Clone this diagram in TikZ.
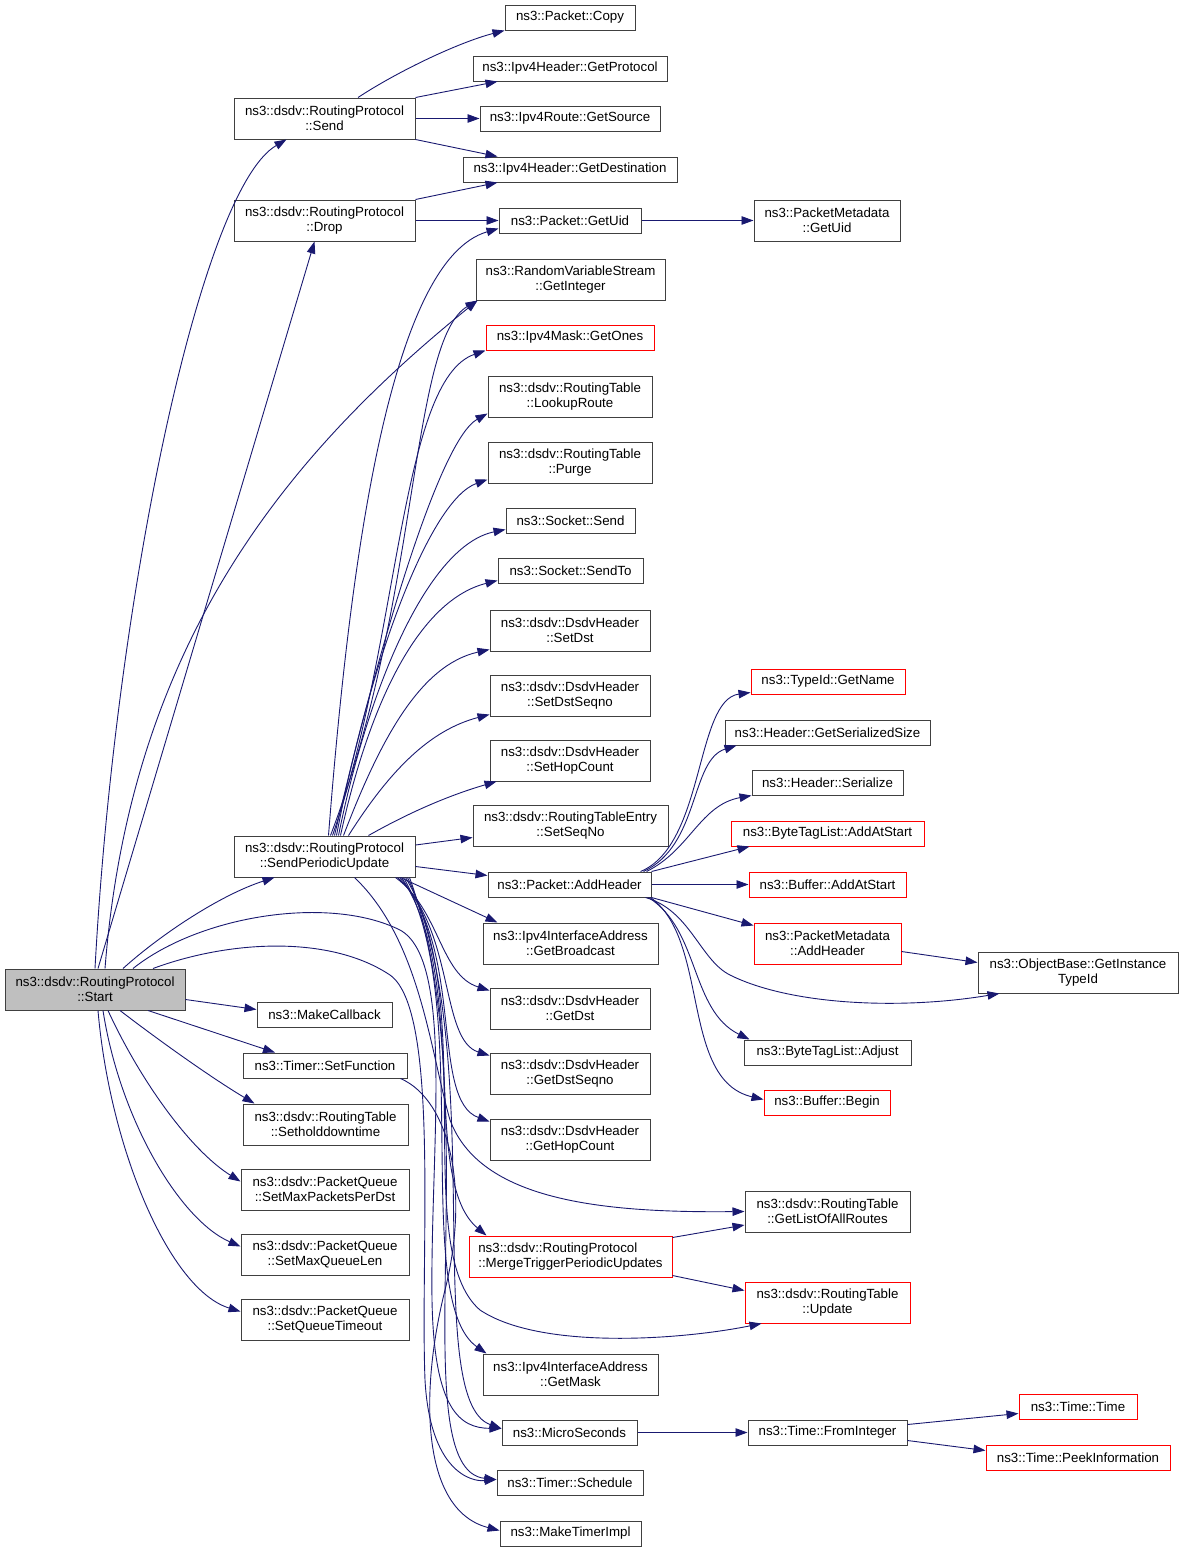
\documentclass[tikz,border=0pt]{standalone}
\usepackage{fontspec}
\setmainfont{Liberation Sans}
\usetikzlibrary{arrows.meta, positioning}
\definecolor{edgeblue}{RGB}{25, 25, 112}
\definecolor{startgray}{RGB}{191, 191, 191}

\begin{document}
\begin{tikzpicture}[x=1pt, y=-1pt,
    fn/.style={draw=black!75, line width=1pt, fill=white, inner sep=0pt,
        minimum height=25pt, align=center, font=\fontsize{13.3}{15}\selectfont},
    fntwo/.style={fn, minimum height=41pt},
    nodoc/.style={draw=red},
    call/.style={edgeblue, line width=0.9pt, -{Triangle[length=12pt,width=8.5pt]}}]
    \useasboundingbox (0,0) rectangle (1184,1553);

    % caller and first level
    \node[fntwo, fill=startgray, minimum width=180pt] (start) at (95,989.5) {ns3::dsdv::RoutingProtocol\\::Start};
    \node[fntwo, minimum width=181pt] (send) at (324.5,118.5) {ns3::dsdv::RoutingProtocol\\::Send};
    \node[fntwo, minimum width=181pt] (drop) at (324.5,220.5) {ns3::dsdv::RoutingProtocol\\::Drop};
    \node[fntwo, minimum width=181pt] (spu) at (324.5,856.5) {ns3::dsdv::RoutingProtocol\\::SendPeriodicUpdate};
    \node[fn, minimum width=135pt] (mcb) at (324.5,1014.5) {ns3::MakeCallback};
    \node[fn, minimum width=164pt] (setfn) at (325,1065.5) {ns3::Timer::SetFunction};
    \node[fntwo, minimum width=165pt] (hold) at (325.5,1124.5) {ns3::dsdv::RoutingTable\\::Setholddowntime};
    \node[fntwo, minimum width=168pt] (maxpkt) at (325,1189.5) {ns3::dsdv::PacketQueue\\::SetMaxPacketsPerDst};
    \node[fntwo, minimum width=168pt] (maxlen) at (325,1254.5) {ns3::dsdv::PacketQueue\\::SetMaxQueueLen};
    \node[fntwo, minimum width=168pt] (qtime) at (325,1319.5) {ns3::dsdv::PacketQueue\\::SetQueueTimeout};

    % second level
    \node[fn, minimum width=130pt] (copy) at (570,17.5) {ns3::Packet::Copy};
    \node[fn, minimum width=194pt] (getprot) at (570,68.5) {ns3::Ipv4Header::GetProtocol};
    \node[fn, minimum width=180pt] (getsrc) at (570,118.5) {ns3::Ipv4Route::GetSource};
    \node[fn, minimum width=214pt] (getdest) at (570,169.5) {ns3::Ipv4Header::GetDestination};
    \node[fn, minimum width=142pt] (getuid) at (570,220.5) {ns3::Packet::GetUid};
    \node[fntwo, minimum width=189pt] (getint) at (570.5,279.5) {ns3::RandomVariableStream\\::GetInteger};
    \node[fn, nodoc, minimum width=168pt] (getones) at (570,337.5) {ns3::Ipv4Mask::GetOnes};
    \node[fntwo, minimum width=164pt] (lookup) at (570,396.5) {ns3::dsdv::RoutingTable\\::LookupRoute};
    \node[fntwo, minimum width=164pt] (purge) at (570,462.5) {ns3::dsdv::RoutingTable\\::Purge};
    \node[fn, minimum width=129pt] (socksend) at (570.5,520.5) {ns3::Socket::Send};
    \node[fn, minimum width=145pt] (sendto) at (570.5,570.5) {ns3::Socket::SendTo};
    \node[fntwo, minimum width=160pt] (setdst) at (570,630.5) {ns3::dsdv::DsdvHeader\\::SetDst};
    \node[fntwo, minimum width=160pt] (setdseq) at (570,695.5) {ns3::dsdv::DsdvHeader\\::SetDstSeqno};
    \node[fntwo, minimum width=160pt] (sethop) at (570,760.5) {ns3::dsdv::DsdvHeader\\::SetHopCount};
    \node[fntwo, minimum width=195pt] (setseq) at (570.5,825.5) {ns3::dsdv::RoutingTableEntry\\::SetSeqNo};
    \node[fn, minimum width=163pt] (addh) at (569.5,884.5) {ns3::Packet::AddHeader};
    \node[fntwo, minimum width=175pt] (getbcast) at (570.5,943.5) {ns3::Ipv4InterfaceAddress\\::GetBroadcast};
    \node[fntwo, minimum width=160pt] (getdst) at (570,1008.5) {ns3::dsdv::DsdvHeader\\::GetDst};
    \node[fntwo, minimum width=160pt] (getdseq) at (570,1073.5) {ns3::dsdv::DsdvHeader\\::GetDstSeqno};
    \node[fntwo, minimum width=160pt] (gethop) at (570,1139.5) {ns3::dsdv::DsdvHeader\\::GetHopCount};
    \node[fntwo, nodoc, minimum width=203pt, align=left] (merge) at (570.5,1256.5) {ns3::dsdv::RoutingProtocol\\::MergeTriggerPeriodicUpdates};
    \node[fntwo, minimum width=175pt] (getmask) at (570.5,1374.5) {ns3::Ipv4InterfaceAddress\\::GetMask};
    \node[fn, minimum width=135pt] (ms) at (569.5,1432.5) {ns3::MicroSeconds};
    \node[fn, minimum width=146pt] (sched) at (570,1482.5) {ns3::Timer::Schedule};
    \node[fn, minimum width=141pt] (mktimer) at (570.5,1533.5) {ns3::MakeTimerImpl};

    % third level
    \node[fntwo, minimum width=146pt] (pmuid) at (827,220.5) {ns3::PacketMetadata\\::GetUid};
    \node[fn, nodoc, minimum width=154pt] (getname) at (828,681.5) {ns3::TypeId::GetName};
    \node[fn, minimum width=205pt] (getsize) at (827.5,732.5) {ns3::Header::GetSerializedSize};
    \node[fn, minimum width=151pt] (serial) at (827.5,782.5) {ns3::Header::Serialize};
    \node[fn, nodoc, minimum width=193pt] (btladd) at (827.5,833.5) {ns3::ByteTagList::AddAtStart};
    \node[fn, nodoc, minimum width=157pt] (bufadd) at (827.5,884.5) {ns3::Buffer::AddAtStart};
    \node[fntwo, nodoc, minimum width=147pt] (pmadd) at (827.5,943.5) {ns3::PacketMetadata\\::AddHeader};
    \node[fn, minimum width=167pt] (adjust) at (827.5,1052.5) {ns3::ByteTagList::Adjust};
    \node[fn, nodoc, minimum width=126pt] (begin) at (827,1102.5) {ns3::Buffer::Begin};
    \node[fntwo, minimum width=165pt] (getlist) at (827.5,1211.5) {ns3::dsdv::RoutingTable\\::GetListOfAllRoutes};
    \node[fntwo, nodoc, minimum width=165pt] (update) at (827.5,1302.5) {ns3::dsdv::RoutingTable\\::Update};
    \node[fn, minimum width=159pt] (fromint) at (827.5,1432.5) {ns3::Time::FromInteger};

    % fourth level
    \node[fntwo, minimum width=200pt] (itid) at (1078,972.5) {ns3::ObjectBase::GetInstance\\TypeId};
    \node[fn, nodoc, minimum width=118pt] (timetime) at (1078,1406.5) {ns3::Time::Time};
    \node[fn, nodoc, minimum width=184pt] (peek) at (1078,1457.5) {ns3::Time::PeekInformation};

    % calls of Start
    \draw[call] (start.north) .. controls (115,600) and (200,190) .. ([xshift=-38pt]send.south);
    \draw[call] ([xshift=3pt]start.north) -- ([xshift=-10pt]drop.south);
    \draw[call] ([xshift=10pt]start.north) .. controls (130,650) and (280,460) .. ([xshift=2pt]getint.south west);
    \draw[call] ([xshift=28pt]start.north) .. controls (160,935) and (220,895) .. ([xshift=-50pt]spu.south);
    \draw[call] ([yshift=-10pt]start.east) -- ([yshift=5pt]mcb.west);
    \draw[call] ([xshift=53pt]start.south) -- ([xshift=-50pt]setfn.north);
    \draw[call] ([xshift=25pt]start.south) .. controls (165,1045) and (215,1080) .. ([xshift=12pt]hold.north west);
    \draw[call] ([xshift=13pt]start.south) .. controls (140,1080) and (190,1150) .. ([yshift=8pt]maxpkt.west);
    \draw[call] ([xshift=8pt]start.south) .. controls (120,1120) and (180,1220) .. ([yshift=8pt]maxlen.west);
    \draw[call] ([xshift=3pt]start.south) .. controls (110,1150) and (170,1290) .. ([yshift=8pt]qtime.west);
    \draw[call] ([xshift=38pt]start.north) .. controls (200,915) and (330,895) .. (400,930)
        .. controls (455,960) and (430,1150) .. (432,1300)
        .. controls (434,1410) and (460,1428) .. ([yshift=4pt]ms.west);
    \draw[call] ([xshift=58pt]start.north) .. controls (230,940) and (330,935) .. (390,975)
        .. controls (440,1010) and (420,1250) .. (425,1380)
        .. controls (430,1470) and (470,1482) .. ([yshift=3pt]sched.west);

    % calls of Send and Drop
    \draw[call] ([xshift=33.5pt]send.north) .. controls (400,70) and (460,42) .. (copy.south west);
    \draw[call] (send.north east) -- ([xshift=25pt]getprot.south west);
    \draw[call] (send.east) -- (getsrc.west);
    \draw[call] (send.south east) -- ([xshift=35pt]getdest.north west);
    \draw[call] (drop.north east) -- ([xshift=35pt]getdest.south west);
    \draw[call] (drop.east) -- (getuid.west);
    \draw[call] (getuid.east) -- (pmuid.west);

    % calls of SendPeriodicUpdate
    \draw[call] ([xshift=4pt]spu.north) .. controls (350,560) and (390,260) .. ([yshift=-8pt]getuid.west);
    \draw[call] ([xshift=6pt]spu.north) .. controls (420,600) and (410,340) .. ([xshift=2pt]getint.south west);
    \draw[call] ([xshift=8pt]spu.north) .. controls (400,640) and (400,380) .. (getones.south west);
    \draw[call] ([xshift=10pt]spu.north) .. controls (380,640) and (440,440) .. ([yshift=4pt]lookup.south west);
    \draw[call] ([xshift=12pt]spu.north) .. controls (370,660) and (430,500) .. ([yshift=4pt]purge.south west);
    \draw[call] ([xshift=14pt]spu.north) .. controls (370,680) and (430,545) .. ([yshift=4pt]socksend.south west);
    \draw[call] ([xshift=16pt]spu.north) .. controls (370,700) and (420,600) .. ([yshift=3pt]sendto.south west);
    \draw[call] ([xshift=19pt]spu.north) .. controls (380,740) and (420,665) .. ([yshift=2pt]setdst.south west);
    \draw[call] ([xshift=24pt]spu.north) .. controls (390,770) and (430,730) .. ([yshift=2pt]setdseq.south west);
    \draw[call] ([xshift=44pt]spu.north) .. controls (410,812) and (450,795) .. ([xshift=7pt]sethop.south west);
    \draw[call] ([yshift=11.5pt]spu.east) -- ([yshift=-12pt]setseq.west);
    \draw[call] ([yshift=-10pt]spu.east) -- ([yshift=9pt]addh.west);
    \draw[call] ([xshift=-15pt]spu.south east) -- ([xshift=15pt]getbcast.north west);
    \draw[call] ([xshift=-20pt]spu.south east) .. controls (440,910) and (440,975) .. ([yshift=-3pt]getdst.north west);
    \draw[call] ([xshift=-18pt]spu.south east) .. controls (455,930) and (440,1040) .. ([yshift=-3pt]getdseq.north west);
    \draw[call] ([xshift=-16pt]spu.south east) .. controls (465,950) and (430,1100) .. ([yshift=-3pt]gethop.north west);
    \draw[call] ([xshift=30pt]spu.south) .. controls (420,940) and (430,1050) .. (450,1120)
        .. controls (480,1200) and (600,1213) .. (getlist.west);
    \draw[call] ([xshift=-14pt]spu.south east) .. controls (470,980) and (420,1180) .. ([xshift=18pt]merge.north west);
    \draw[call] ([xshift=-10pt]spu.south east) .. controls (480,1000) and (410,1250) .. (480,1310)
        .. controls (540,1350) and (680,1340) .. ([xshift=17pt]update.south west);
    \draw[call] ([xshift=-12pt]spu.south east) .. controls (475,1000) and (410,1300) .. ([xshift=4pt]getmask.north west);
    \draw[call] ([xshift=-8pt]spu.south east) .. controls (490,1050) and (420,1400) .. ([yshift=4pt]ms.west);
    \draw[call] ([xshift=-6pt]spu.south east) .. controls (490,1100) and (400,1470) .. ([yshift=3pt]sched.west);

    % calls of SetFunction and MergeTriggerPeriodicUpdates
    \draw[call] ([xshift=-7pt]setfn.south east) .. controls (450,1100) and (470,1190) .. (445,1290)
        .. controls (420,1390) and (420,1510) .. ([yshift=3pt]mktimer.west);
    \draw[call] ([yshift=-2pt]merge.north east) -- ([yshift=-13.5pt]getlist.west);
    \draw[call] ([yshift=2pt]merge.south east) -- ([yshift=12pt]update.west);

    % calls of AddHeader
    \draw[call] ([xshift=-11pt]addh.north east) .. controls (705,845) and (695,700) .. ([yshift=2pt]getname.south west);
    \draw[call] ([xshift=-8pt]addh.north east) .. controls (700,845) and (690,760) .. ([xshift=12pt]getsize.south west);
    \draw[call] ([xshift=-5pt]addh.north east) .. controls (690,850) and (700,805) .. (serial.south west);
    \draw[call] (addh.north east) -- ([xshift=19pt]btladd.south west);
    \draw[call] (addh.east) -- (bufadd.west);
    \draw[call] (addh.south east) -- ([yshift=-3pt]pmadd.north west);
    \draw[call] ([xshift=-6pt]addh.south east) .. controls (690,910) and (700,960) .. (730,975)
        .. controls (790,1005) and (900,1010) .. ([xshift=22pt]itid.south west);
    \draw[call] ([xshift=-3pt]addh.south east) .. controls (700,930) and (690,1010) .. ([xshift=6pt]adjust.north west);
    \draw[call] ([xshift=-1pt]addh.south east) .. controls (710,940) and (680,1080) .. ([yshift=3pt]begin.west);
    \draw[call] ([yshift=-8pt]pmadd.east) -- ([yshift=10pt]itid.west);

    % time conversions
    \draw[call] (ms.east) -- (fromint.west);
    \draw[call] ([yshift=8pt]fromint.east) -- ([yshift=-7pt]timetime.west);
    \draw[call] ([yshift=-8pt]fromint.east) -- ([yshift=7pt]peek.west);
\end{tikzpicture}
\end{document}
